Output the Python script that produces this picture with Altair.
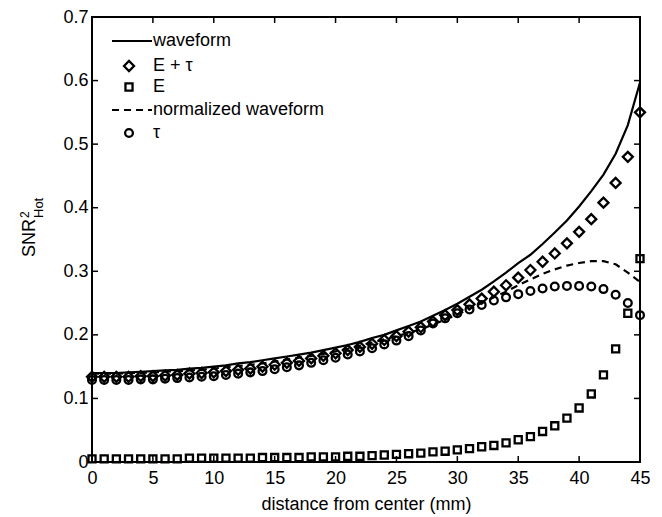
import altair as alt
import pandas as pd

# ---------------- data ----------------
distance = list(range(46))

waveform = [0.140, 0.140, 0.140, 0.141, 0.142, 0.143, 0.144, 0.145, 0.147, 0.148,
            0.150, 0.152, 0.155, 0.157, 0.160, 0.163, 0.166, 0.169, 0.172, 0.176,
            0.180, 0.184, 0.189, 0.195, 0.200, 0.207, 0.214, 0.221, 0.230, 0.239,
            0.249, 0.260, 0.271, 0.284, 0.298, 0.313, 0.326, 0.343, 0.361, 0.380,
            0.402, 0.426, 0.452, 0.485, 0.530, 0.597]

normalized = [0.139, 0.139, 0.139, 0.140, 0.140, 0.141, 0.142, 0.143, 0.144, 0.145,
              0.147, 0.149, 0.151, 0.153, 0.155, 0.158, 0.161, 0.164, 0.167, 0.170,
              0.174, 0.178, 0.183, 0.188, 0.193, 0.198, 0.203, 0.209, 0.216, 0.224,
              0.232, 0.241, 0.250, 0.259, 0.268, 0.278, 0.287, 0.296, 0.303, 0.309,
              0.313, 0.316, 0.316, 0.311, 0.298, 0.283]

e_tau = [0.134, 0.134, 0.134, 0.134, 0.135, 0.135, 0.136, 0.137, 0.139, 0.140,
         0.141, 0.143, 0.145, 0.147, 0.150, 0.153, 0.156, 0.159, 0.163, 0.167,
         0.171, 0.176, 0.181, 0.186, 0.192, 0.198, 0.205, 0.212, 0.221, 0.231,
         0.239, 0.248, 0.257, 0.268, 0.278, 0.290, 0.302, 0.315, 0.328, 0.344,
         0.362, 0.382, 0.408, 0.439, 0.480, 0.550]

e_only = [0.005, 0.005, 0.005, 0.005, 0.005, 0.005, 0.005, 0.005, 0.006, 0.006,
          0.006, 0.006, 0.006, 0.006, 0.007, 0.007, 0.007, 0.007, 0.008, 0.008,
          0.008, 0.009, 0.009, 0.010, 0.011, 0.012, 0.013, 0.014, 0.016, 0.017,
          0.019, 0.021, 0.024, 0.026, 0.030, 0.035, 0.040, 0.048, 0.057, 0.069,
          0.085, 0.107, 0.137, 0.178, 0.234, 0.320]

tau = [0.129, 0.129, 0.129, 0.129, 0.130, 0.130, 0.131, 0.132, 0.133, 0.134,
       0.135, 0.137, 0.139, 0.141, 0.143, 0.146, 0.149, 0.152, 0.156, 0.160,
       0.164, 0.169, 0.174, 0.179, 0.185, 0.191, 0.198, 0.207, 0.218, 0.226,
       0.234, 0.240, 0.247, 0.254, 0.259, 0.264, 0.269, 0.273, 0.276, 0.277,
       0.277, 0.276, 0.272, 0.263, 0.250, 0.231]

x_ticks = [0, 5, 10, 15, 20, 25, 30, 35, 40, 45]
y_ticks = [0, 0.1, 0.2, 0.3, 0.4, 0.5, 0.6, 0.7]

legend_labels = ["waveform", "E + \u03c4", "E", "normalized waveform", "\u03c4"]
x_title = "distance from center (mm)"
y_title_main, y_title_sup, y_title_sub = "SNR", "2", "Hot"

# ---------------- chart ----------------
W, H = 548, 445
FONT = "Liberation Sans"
xs = alt.Scale(domain=[0, 45], nice=False, zero=False)
ys = alt.Scale(domain=[0, 0.7], nice=False, zero=False)

df = pd.DataFrame({"d": distance, "w": waveform, "n": normalized,
                   "et": e_tau, "e": e_only, "t": tau})
base = alt.Chart(df)

x_axis = alt.Axis(values=x_ticks, domain=False, ticks=False, grid=False,
                  labelFont=FONT, labelFontSize=18, labelColor="black",
                  labelPadding=7, title=x_title, titleFont=FONT,
                  titleFontSize=18, titleFontWeight="normal",
                  titleColor="black", titlePadding=8, labelFlush=False)
y_axis = alt.Axis(values=y_ticks, domain=False, ticks=False, grid=False,
                  labelFont=FONT, labelFontSize=18, labelColor="black",
                  labelPadding=4, format=".1~f", title=None, labelFlush=False)

MSW = 2.3
solid = base.mark_line(color="black", strokeWidth=2.2).encode(
    x=alt.X("d:Q", scale=xs, axis=x_axis),
    y=alt.Y("w:Q", scale=ys, axis=y_axis))
dashed = base.mark_line(color="black", strokeWidth=2.2, strokeDash=[7, 5]).encode(
    x=alt.X("d:Q", scale=xs), y=alt.Y("n:Q", scale=ys))
diam = base.mark_point(shape="diamond", size=100, filled=False, color="black",
                       strokeWidth=MSW, opacity=1).encode(
    x=alt.X("d:Q", scale=xs), y=alt.Y("et:Q", scale=ys))
sq = base.mark_point(shape="square", size=50, filled=False, color="black",
                     strokeWidth=MSW, opacity=1).encode(
    x=alt.X("d:Q", scale=xs), y=alt.Y("e:Q", scale=ys))
circ = base.mark_point(shape="circle", size=60, filled=False, color="black",
                       strokeWidth=MSW, opacity=1).encode(
    x=alt.X("d:Q", scale=xs), y=alt.Y("t:Q", scale=ys))

# inward ticks on all four sides
TL = 6
xt = alt.Chart(pd.DataFrame({"v": x_ticks}))
yt = alt.Chart(pd.DataFrame({"v": y_ticks}))
tick_b = xt.mark_rule(color="black", strokeWidth=1.5).encode(
    x=alt.X("v:Q", scale=xs), y=alt.value(H), y2=alt.value(H - TL))
tick_t = xt.mark_rule(color="black", strokeWidth=1.5).encode(
    x=alt.X("v:Q", scale=xs), y=alt.value(0), y2=alt.value(TL))
tick_l = yt.mark_rule(color="black", strokeWidth=1.5).encode(
    y=alt.Y("v:Q", scale=ys), x=alt.value(0), x2=alt.value(TL))
tick_r = yt.mark_rule(color="black", strokeWidth=1.5).encode(
    y=alt.Y("v:Q", scale=ys), x=alt.value(W - TL), x2=alt.value(W))

# legend (manual, top-left inside the plot)
one = alt.Chart(pd.DataFrame({"k": [0]}))
leg_y = [24, 49, 70, 93, 116]
LX0, LX1, LSYM, LTXT = 20, 60, 37, 61
legend = [
    one.mark_rule(color="black", strokeWidth=2.2).encode(
        x=alt.value(LX0), x2=alt.value(LX1), y=alt.value(leg_y[0])),
    one.mark_point(shape="diamond", size=100, filled=False, color="black",
                   strokeWidth=MSW, opacity=1).encode(
        x=alt.value(LSYM), y=alt.value(leg_y[1])),
    one.mark_point(shape="square", size=50, filled=False, color="black",
                   strokeWidth=MSW, opacity=1).encode(
        x=alt.value(LSYM), y=alt.value(leg_y[2])),
    one.mark_rule(color="black", strokeWidth=2.2, strokeDash=[7, 5]).encode(
        x=alt.value(LX0), x2=alt.value(LX1), y=alt.value(leg_y[3])),
    one.mark_point(shape="circle", size=60, filled=False, color="black",
                   strokeWidth=MSW, opacity=1).encode(
        x=alt.value(LSYM), y=alt.value(leg_y[4])),
]
for lab, yy in zip(legend_labels, leg_y):
    legend.append(one.mark_text(align="left", baseline="middle", font=FONT,
                                fontSize=18, color="black").encode(
        x=alt.value(LTXT), y=alt.value(yy), text=alt.value(lab)))

# y-axis title with superscript and subscript
ytitle = [
    one.mark_text(angle=270, align="left", baseline="middle", font=FONT,
                  fontSize=18, color="black").encode(
        x=alt.value(-62), y=alt.value(240), text=alt.value(y_title_main)),
    one.mark_text(angle=270, align="left", baseline="middle", font=FONT,
                  fontSize=12, color="black").encode(
        x=alt.value(-67), y=alt.value(201), text=alt.value(y_title_sup)),
    one.mark_text(angle=270, align="left", baseline="middle", font=FONT,
                  fontSize=13, color="black").encode(
        x=alt.value(-53), y=alt.value(201), text=alt.value(y_title_sub)),
]

chart = alt.layer(solid, dashed, diam, sq, circ, tick_b, tick_t, tick_l, tick_r,
                  *legend, *ytitle).properties(
    width=W, height=H,
    autosize=alt.AutoSizeParams(type="none"),
    padding={"left": 84, "top": 9, "right": 14, "bottom": 53},
    background="white",
).configure_view(stroke="black", strokeWidth=2)

chart.save("out.html", embed_options={"renderer": "svg", "actions": False})
